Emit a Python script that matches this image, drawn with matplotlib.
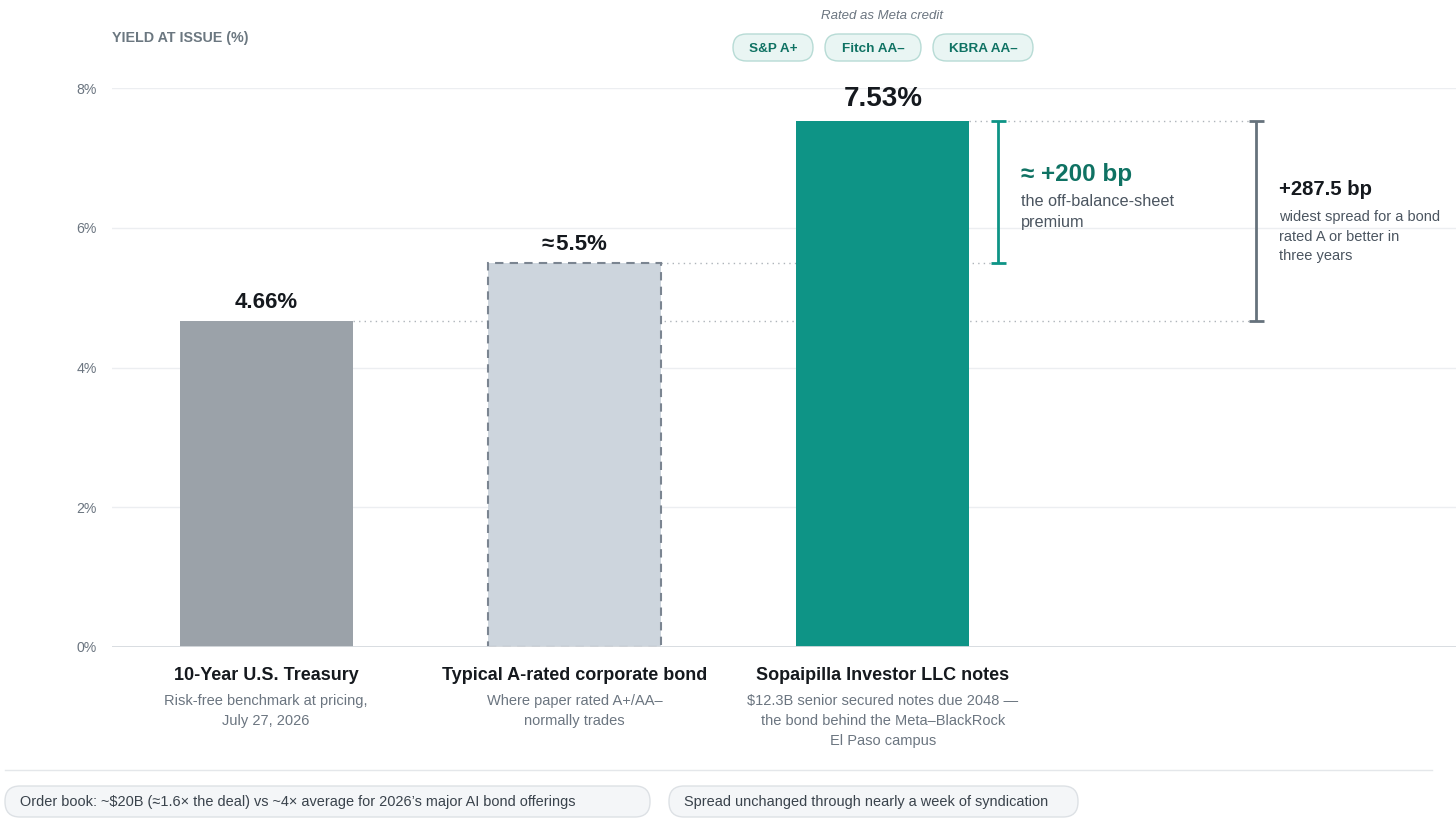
import matplotlib.pyplot as plt
from matplotlib.patches import FancyBboxPatch

plt.rcParams['font.family'] = ['Liberation Sans', 'DejaVu Sans']

# data
categories = ['10-Year U.S. Treasury', 'Typical A-rated corporate bond',
              'Sopaipilla Investor LLC notes']
subtitles = [['Risk-free benchmark at pricing,', 'July 27, 2026'],
             ['Where paper rated A+/AA–', 'normally trades'],
             ['$12.3B senior secured notes due 2048 —',
              'the bond behind the Meta–BlackRock', 'El Paso campus']]
yields = [4.66, 5.5, 7.53]
value_labels = ['4.66%', '≈\u200a5.5%', '7.53%']
yticks = [0, 2, 4, 6, 8]
ratings = ['S&P A+', 'Fitch AA–', 'KBRA AA–']
notes = ['Order book: ~$20B (≈1.6× the deal) vs ~4× average for 2026’s major AI bond offerings',
         'Spread unchanged through nearly a week of syndication']
premium_title = '≈ +200 bp'
premium_lines = ['the off-balance-sheet', 'premium']
spread_title = '+287.5 bp'
spread_lines = ['widest spread for a bond', 'rated A or better in', 'three years']

# styles
W, H = 1456, 825
bar_colors = ['#9ba2a9', '#cdd5dd', '#0e9486']
TEAL = '#0e9486'
TEAL_DARK = '#0f7263'
DARK = '#15191e'
GREY_TXT = '#6b7580'
MID_TXT = '#4b5560'
BRACKET_GREY = '#66727c'


def px(v):
    return v * 72 / 100


fig = plt.figure(figsize=(W / 100, H / 100), dpi=100)
ax = fig.add_axes([112 / W, 1 - 647 / H, 1 - 112 / W, (647 - 88) / H], zorder=2)
ax.patch.set_alpha(0)

bw = 0.561
xs = list(range(len(categories)))
bars = ax.bar(xs, yields, width=bw, color=bar_colors, zorder=3)
bars[1].set_edgecolor('#7b8591')
bars[1].set_linestyle((0, (4, 3)))
bars[1].set_linewidth(1.5)

ax.set_xlim(-0.5, 3.859)
ax.set_ylim(0, 8)
ax.set_yticks(yticks)
ax.set_yticklabels([f'{t}%' for t in yticks])
ax.set_xticks([])
ax.tick_params(axis='y', length=0, pad=px(15), labelsize=10.2, labelcolor=GREY_TXT)
for s in ax.spines.values():
    s.set_visible(False)
for t in yticks[1:]:
    ax.axhline(t, color='#eceef1', lw=1, zorder=0)
ax.axhline(0, color='#d6dade', lw=1.3, zorder=4)

# value labels
for i, (v, lab) in enumerate(zip(yields, value_labels)):
    big = i == len(yields) - 1
    ax.annotate(lab, xy=(i, v), xytext=(0, px(15 if big else 13)),
                textcoords='offset points', ha='center', va='baseline',
                fontsize=20 if big else 16, fontweight='bold', color=DARK)

# category labels below bars
for i, (cat, subs) in enumerate(zip(categories, subtitles)):
    ax.annotate(cat, xy=(i, 0), xytext=(0, px(-29)), textcoords='offset points',
                ha='center', va='center', fontsize=13, fontweight='bold',
                color=DARK, annotation_clip=False)
    for k, line in enumerate(subs):
        ax.annotate(line, xy=(i, 0), xytext=(0, px(-54 - 20 * k)),
                    textcoords='offset points', ha='center', va='center',
                    fontsize=10.5, color=GREY_TXT, annotation_clip=False)

# dotted connectors and brackets
teal_x = 2.374
grey_x = 3.211
cap = 0.0245
dot = dict(color='#aeb4ba', lw=1, linestyle=(0, (1, 3)), zorder=1)
ax.hlines(yields[0], 0 + bw / 2, grey_x, **dot)
ax.hlines(yields[1], 1 + bw / 2, teal_x, **dot)
ax.hlines(yields[2], 2 + bw / 2, grey_x, **dot)

ax.vlines(teal_x, yields[1], yields[2], color=TEAL, lw=2, zorder=5)
ax.hlines([yields[1], yields[2]], teal_x - cap, teal_x + cap, color=TEAL, lw=2, zorder=5)
ax.vlines(grey_x, yields[0], yields[2], color=BRACKET_GREY, lw=2, zorder=5)
ax.hlines([yields[0], yields[2]], grey_x - cap, grey_x + cap, color=BRACKET_GREY, lw=2, zorder=5)

mid1 = (yields[1] + yields[2]) / 2
ax.annotate(premium_title, xy=(teal_x, mid1), xytext=(px(23), px(17.5)),
            textcoords='offset points', ha='left', va='center',
            fontsize=17.5, fontweight='bold', color=TEAL_DARK)
for k, line in enumerate(premium_lines):
    ax.annotate(line, xy=(teal_x, mid1), xytext=(px(23), px(-10 - 21 * k)),
                textcoords='offset points', ha='left', va='center',
                fontsize=11.7, color=MID_TXT)

mid2 = (yields[0] + yields[2]) / 2
ax.annotate(spread_title, xy=(grey_x, mid2), xytext=(px(23), px(32)),
            textcoords='offset points', ha='left', va='center',
            fontsize=14.6, fontweight='bold', color=DARK)
for k, line in enumerate(spread_lines):
    ax.annotate(line, xy=(grey_x, mid2), xytext=(px(23), px(4 - 19.5 * k)),
                textcoords='offset points', ha='left', va='center',
                fontsize=10.5, color=MID_TXT, annotation_clip=False)

# overlay in pixel coordinates for header, pills and footer
ov = fig.add_axes([0, 0, 1, 1], zorder=1)
ov.set_xlim(0, W)
ov.set_ylim(H, 0)
ov.axis('off')

ov.text(112, 38, 'YIELD AT ISSUE (%)', fontsize=10.3, fontweight='bold',
        color='#6b7780', ha='left', va='center')
ov.text(882, 16, 'Rated as Meta credit', fontsize=9.5, style='italic',
        color=GREY_TXT, ha='center', va='center')

pill_x = [(733, 813), (825, 921), (933, 1033)]
for (x0, x1), r in zip(pill_x, ratings):
    ov.add_patch(FancyBboxPatch((x0, 34), x1 - x0, 27,
                                boxstyle='round,pad=0,rounding_size=13.5',
                                fc='#e9f5f3', ec='#b7dbd5', lw=1))
    ov.text((x0 + x1) / 2, 49, r, fontsize=9.7, fontweight='bold',
            color=TEAL_DARK, ha='center', va='center')

ov.plot([5, 1432], [770, 770], color='#e4e7ea', lw=1)

note_x = [(5, 650), (669, 1078)]
for (x0, x1), n in zip(note_x, notes):
    ov.add_patch(FancyBboxPatch((x0, 786), x1 - x0, 31,
                                boxstyle='round,pad=0,rounding_size=15',
                                fc='#f4f6f8', ec='#dde1e5', lw=1))
    ov.text(x0 + 15, 802, n, fontsize=10.45, color='#3a434c',
            ha='left', va='center')

fig.savefig('out.png', dpi=100, facecolor='white')
